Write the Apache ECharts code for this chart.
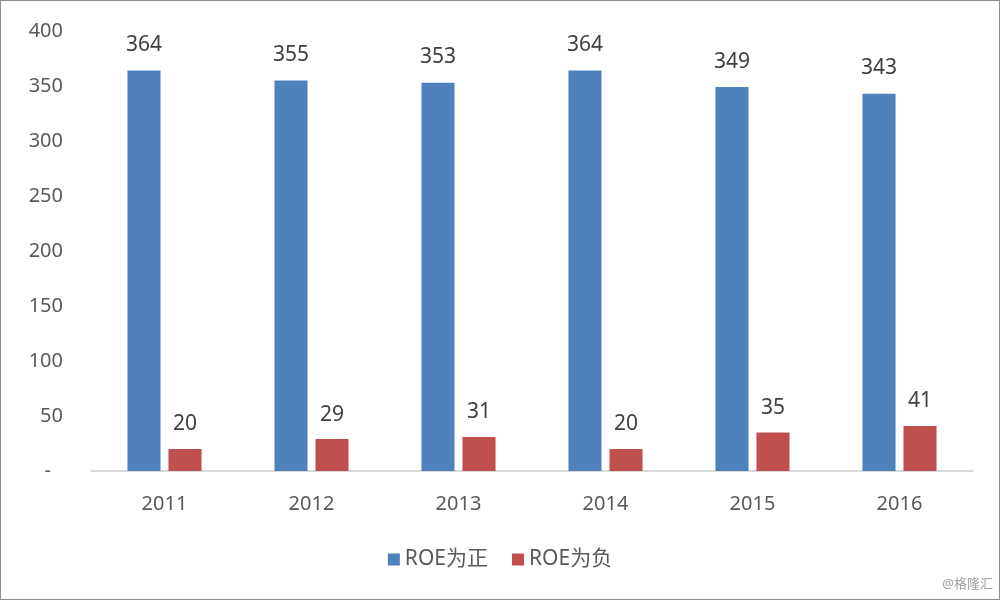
<!DOCTYPE html>
<html>
<head>
<meta charset="utf-8">
<style>
html,body{margin:0;padding:0;background:#fff;}
#c{width:998px;height:598px;border:1px solid #8c8c8c;}
</style>
<script src="https://cdn.jsdelivr.net/npm/echarts@6/dist/echarts.min.js"></script>
</head>
<body>
<div id="c"></div>
<script>
const categories = ['2011','2012','2013','2014','2015','2016'];
const positiveROE = [364, 355, 353, 364, 349, 343];
const negativeROE = [20, 29, 31, 20, 35, 41];
const seriesNames = ['ROE为正', 'ROE为负'];

const font = '"Noto Sans", "Noto Sans CJK SC", sans-serif';
const chart = echarts.init(document.getElementById('c'));
chart.setOption({
  animation: false,
  textStyle: {fontFamily: font},
  grid: {left: 90, right: 26, top: 30, bottom: 128},
  legend: {
    bottom: 24, left: 'center',
    itemWidth: 12, itemHeight: 12, itemGap: 24,
    icon: 'rect',
    textStyle: {fontSize: 21, color: '#595959', fontFamily: font},
    data: seriesNames
  },
  graphic: [{
    type: 'text', right: 6, bottom: 8,
    style: {text: '@格隆汇', fontSize: 13, fill: '#a0a0a0', fontFamily: font}
  }],
  xAxis: {
    type: 'category',
    data: categories,
    axisLine: {lineStyle: {color: '#d9d9d9', width: 2}},
    axisTick: {show: false},
    axisLabel: {fontSize: 20, color: '#595959', margin: 23}
  },
  yAxis: {
    type: 'value', min: 0, max: 400, interval: 50,
    axisLine: {show: false},
    axisTick: {show: false},
    splitLine: {show: false},
    axisLabel: {
      fontSize: 20, color: '#595959', margin: 28,
      formatter: v => v === 0 ? '{d|-}' : String(v),
      rich: {d: {fontSize: 20, color: '#595959', padding: [0, 12, 0, 0]}}
    }
  },
  series: [{
    name: seriesNames[0], type: 'bar', data: positiveROE,
    barWidth: '22.5%', barGap: '24%',
    itemStyle: {color: '#4f81bd'},
    label: {show: true, position: 'top', distance: 15, fontSize: 21, color: '#404040'}
  }, {
    name: seriesNames[1], type: 'bar', data: negativeROE,
    barWidth: '22.5%',
    itemStyle: {color: '#c0504d'},
    label: {show: true, position: 'top', distance: 14, fontSize: 21, color: '#404040'}
  }]
});
</script>
</body>
</html>
